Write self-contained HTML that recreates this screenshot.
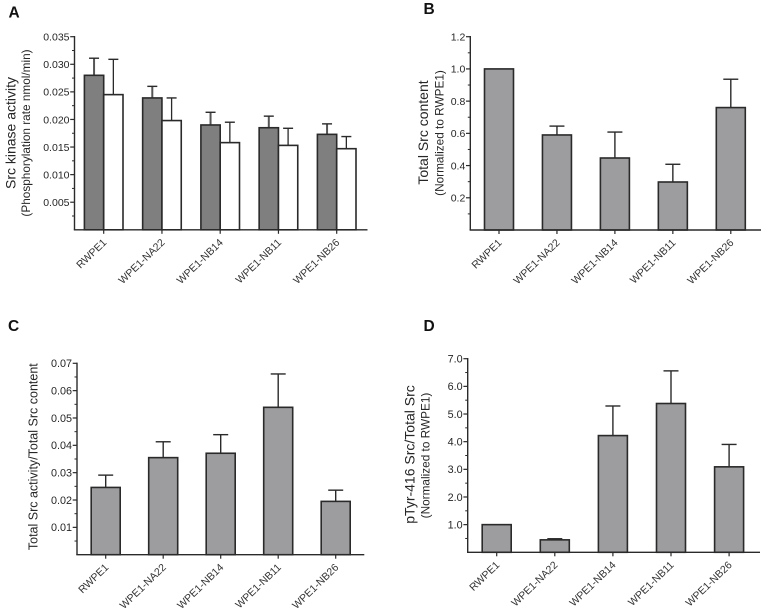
<!DOCTYPE html>
<html lang="en">
<head>
<meta charset="utf-8">
<title>Src kinase activity panels</title>
<style>
html,body{margin:0;padding:0;background:#fff;}
svg{display:block;}
text{font-family:"Liberation Sans",Arial,sans-serif;fill:#262626;}
.letter{font-size:15.5px;font-weight:bold;fill:#111;}
.title1{font-size:14px;text-anchor:middle;}
.title2{font-size:11.8px;text-anchor:middle;}
.tick{font-size:10.5px;text-anchor:end;}
.tick.large{font-size:10.8px;}
.cat{font-size:10.5px;text-anchor:end;fill:#333;}
</style>
</head>
<body>
<svg id="figure" xmlns="http://www.w3.org/2000/svg" width="764" height="611" viewBox="0 0 764 611">
  <rect width="764" height="611" fill="#fff"/>
  <text class="letter" x="8.5" y="17.5">A</text>
  <text class="letter" x="423.5" y="14">B</text>
  <text class="letter" x="8" y="331">C</text>
  <text class="letter" x="423.5" y="331">D</text>

  <text class="title1" transform="translate(15.5 133) rotate(-90)">Src kinase activity</text>
  <text class="title2" transform="translate(30 133) rotate(-90)">(Phosphorylation rate nmol/min)</text>
  <text class="title1" transform="translate(428 132.5) rotate(-90)">Total Src content</text>
  <text class="title2" transform="translate(443.5 133) rotate(-90)">(Normalized to RWPE1)</text>
  <text class="title1" style="font-size:12.5px" transform="translate(37.7 456.7) rotate(-90)">Total Src activity/Total Src content</text>
  <text class="title1" transform="translate(414.3 454.5) rotate(-90)">pTyr-416 Src/Total Src</text>
  <text class="title2" transform="translate(429.7 455.5) rotate(-90)">(Normalized to RWPE1)</text>

  <g id="panel-a"></g>
  <g id="panel-b"></g>
  <g id="panel-c"></g>
  <g id="panel-d"></g>
</svg>
<script>
var categories = ['RWPE1', 'WPE1-NA22', 'WPE1-NB14', 'WPE1-NB11', 'WPE1-NB26'];

var aTickLabels = ['0.005', '0.010', '0.015', '0.020', '0.025', '0.030', '0.035'];
var aTotalValues = [0.028, 0.0239, 0.019, 0.0185, 0.0173];
var aTotalErrorTops = [0.0311, 0.026, 0.0213, 0.0206, 0.0192];
var aActiveValues = [0.0245, 0.0198, 0.0158, 0.0153, 0.0147];
var aActiveErrorTops = [0.0309, 0.0239, 0.0195, 0.0184, 0.0169];

var bTickLabels = ['0.2', '0.4', '0.6', '0.8', '1.0', '1.2'];
var bValues = [1.0, 0.59, 0.447, 0.298, 0.76];
var bErrorTops = [1.0, 0.645, 0.608, 0.408, 0.936];

var cTickLabels = ['0.01', '0.02', '0.03', '0.04', '0.05', '0.06', '0.07'];
var cValues = [0.0246, 0.0355, 0.0371, 0.0539, 0.0195];
var cErrorTops = [0.0291, 0.0413, 0.0439, 0.0661, 0.0236];

var dTickLabels = ['1.0', '2.0', '3.0', '4.0', '5.0', '6.0', '7.0'];
var dValues = [1.0, 0.45, 4.22, 5.38, 3.09];
var dErrorTops = [1.0, 0.49, 5.29, 6.56, 3.9];

var SVG_NS = 'http://www.w3.org/2000/svg';
var INK = '#2a2a2a';

function make(parent, tag, attrs, text) {
  var el = document.createElementNS(SVG_NS, tag);
  for (var k in attrs) { el.setAttribute(k, attrs[k]); }
  if (text !== undefined) { el.textContent = text; }
  parent.appendChild(el);
  return el;
}

function drawPanel(id, frame, tickLabels, seriesList) {
  var root = document.getElementById(id);
  var maxValue = parseFloat(tickLabels[tickLabels.length - 1]);
  var step = parseFloat(tickLabels[0]);
  function yAxis(v) { return frame.base - (frame.base - frame.top) * v / maxValue; }
  function xAxis(i) { return frame.firstX + frame.spacing * i; }

  seriesList.forEach(function (series) {
    series.values.forEach(function (v, i) {
      var cx = xAxis(i) + series.offset;
      var tip = yAxis(series.errorTops[i]);
      var top = yAxis(v);
      if (series.errorTops[i] > v) {
        var stem = make(root, 'line', {x1: cx, x2: cx, y1: top, y2: tip, stroke: series.stemColor, 'stroke-width': series.stemWidth});
        
        
        var cap = make(root, 'line', {x1: cx - frame.cap, x2: cx + frame.cap, y1: tip, y2: tip, stroke: INK, 'stroke-width': 1.4});
        
        
      }
      var bar = make(root, 'rect', {x: cx - frame.barWidth / 2, y: top, width: frame.barWidth, height: frame.base - top, fill: series.fill, stroke: INK, 'stroke-width': 1.6});
      
      
    });
  });

  var yLine = make(root, 'line', {x1: frame.axisX, x2: frame.axisX, y1: yAxis(maxValue) - 0.7, y2: frame.base, stroke: INK, 'stroke-width': 1.4});
  
  
  var xLine = make(root, 'line', {x1: frame.axisX - 0.7, x2: frame.endX, y1: frame.base, y2: frame.base, stroke: INK, 'stroke-width': 1.4});
  
  

  tickLabels.forEach(function (label) {
    var v = parseFloat(label);
    var major = make(root, 'line', {x1: frame.axisX - 4.3, x2: frame.axisX, y1: yAxis(v), y2: yAxis(v), stroke: INK, 'stroke-width': 1.2});
    
    
    var minor = make(root, 'line', {x1: frame.axisX - 2.5, x2: frame.axisX, y1: yAxis(v - step / 2), y2: yAxis(v - step / 2), stroke: INK, 'stroke-width': 1});
    
    
    var text = make(root, 'text', {'class': frame.largeTicks ? 'tick large' : 'tick', x: frame.axisX - 5, y: yAxis(v) + 3.8}, label);
    
    
  });

  categories.forEach(function (name, i) {
    var x = xAxis(i);
    var tick = make(root, 'line', {x1: x, x2: x, y1: frame.base, y2: frame.base + 4, stroke: INK, 'stroke-width': 1.2});
    
    
    var label = make(root, 'text', {'class': 'cat', transform: 'translate(' + (x + 3.5) + ' ' + (frame.base + 13.4) + ') rotate(-44)'}, name);
    
    
  });
}

drawPanel('panel-a',
  {axisX: 74.5, endX: 367.5, top: 36.7, base: 229.8, firstX: 103.7, spacing: 58.25, barWidth: 19.3, cap: 5, largeTicks: false},
  aTickLabels,
  [
    {name: 'total', values: aTotalValues, errorTops: aTotalErrorTops, offset: -9.65, fill: '#7f7f7f', stemColor: '#555', stemWidth: 2},
    {name: 'active', values: aActiveValues, errorTops: aActiveErrorTops, offset: 9.65, fill: '#ffffff', stemColor: INK, stemWidth: 1.3}
  ]);
drawPanel('panel-b',
  {axisX: 470.3, endX: 761, top: 36.7, base: 230, firstX: 499, spacing: 57.95, barWidth: 29, cap: 7.5, largeTicks: false},
  bTickLabels,
  [{name: 'content', values: bValues, errorTops: bErrorTops, offset: 0, fill: '#9d9da0', stemColor: INK, stemWidth: 1.4}]);
drawPanel('panel-c',
  {axisX: 77, endX: 364.3, top: 363.3, base: 554.7, firstX: 105.7, spacing: 57.5, barWidth: 29, cap: 7.5, largeTicks: true},
  cTickLabels,
  [{name: 'ratio', values: cValues, errorTops: cErrorTops, offset: 0, fill: '#9d9da0', stemColor: INK, stemWidth: 1.4}]);
drawPanel('panel-d',
  {axisX: 467.7, endX: 760, top: 358.7, base: 552.3, firstX: 496.7, spacing: 58.1, barWidth: 29, cap: 7.5, largeTicks: true},
  dTickLabels,
  [{name: 'ptyr', values: dValues, errorTops: dErrorTops, offset: 0, fill: '#9d9da0', stemColor: INK, stemWidth: 1.4}]);
</script>
</body>
</html>
